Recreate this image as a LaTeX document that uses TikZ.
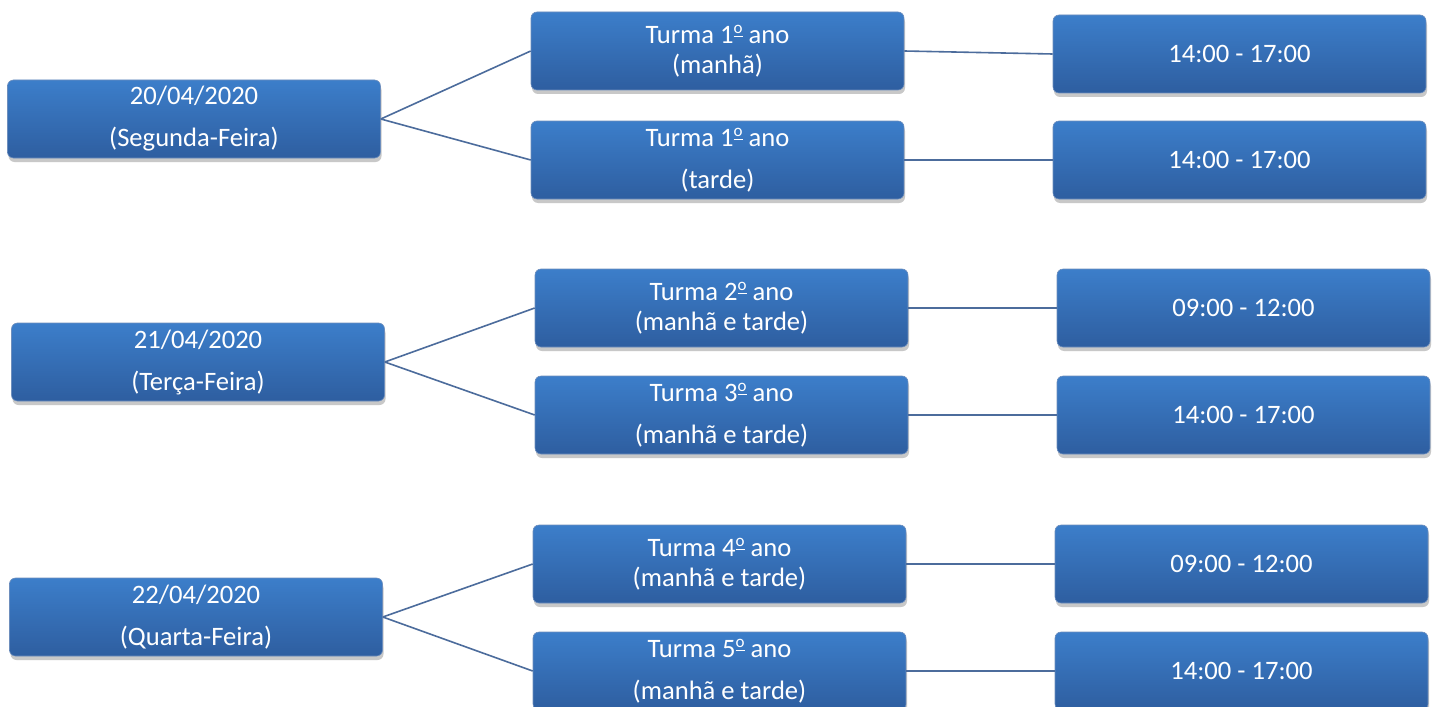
\documentclass[tikz,border=0pt]{standalone}
\usepackage{fontspec}
\setmainfont{Carlito}
\usetikzlibrary{shadows}
\definecolor{caixaTopo}{RGB}{60,126,202}
\definecolor{caixaBase}{RGB}{46,94,160}
\definecolor{linha}{RGB}{76,108,156}
\newcommand{\folga}{\\[6pt]}
\newcommand{\ordo}{\raisebox{0.8ex}{\fontsize{8.5}{9}\selectfont\underline{o}}}
\begin{document}
\begin{tikzpicture}[x=0.5pt,y=-0.5pt]
    \tikzstyle{caixa}=[rectangle, rounded corners=3pt, minimum width=186.5pt, minimum height=39pt,
        top color=caixaTopo, bottom color=caixaBase, draw=caixaBase!70!white, line width=0.3pt,
        text=white, align=center, inner sep=0pt,
        font=\fontsize{13.3}{15}\selectfont,
        drop shadow={shadow xshift=0.5pt, shadow yshift=-2pt, opacity=0.3, fill=black!70}]
    \tikzstyle{ligacao}=[draw=linha, line width=0.8pt]
    \clip (0,0) rectangle (1438,706);
    \fill[white] (0,0) rectangle (1438,706);
    % dias
    \node[caixa] (dia1) at (194,119) {20/04/2020\folga(Segunda-Feira)};
    \node[caixa] (dia2) at (198,362) {21/04/2020\folga(Terça-Feira)};
    \node[caixa] (dia3) at (196,617) {22/04/2020\folga(Quarta-Feira)};
    % turmas
    \node[caixa] (turma1m) at (717.5,51) {Turma 1\ordo{} ano\\(manhã)};
    \node[caixa] (turma1t) at (717.5,160) {Turma 1\ordo{} ano\folga(tarde)};
    \node[caixa] (turma2) at (721.5,308) {Turma 2\ordo{} ano\\(manhã e tarde)};
    \node[caixa] (turma3) at (721.5,415) {Turma 3\ordo{} ano\folga(manhã e tarde)};
    \node[caixa] (turma4) at (719.5,564) {Turma 4\ordo{} ano\\(manhã e tarde)};
    \node[caixa] (turma5) at (719.5,671) {Turma 5\ordo{} ano\folga(manhã e tarde)};
    % horarios
    \node[caixa] (hora1m) at (1239.5,54) {14:00 - 17:00};
    \node[caixa] (hora1t) at (1239.5,160) {14:00 - 17:00};
    \node[caixa] (hora2) at (1243.5,308) {09:00 - 12:00};
    \node[caixa] (hora3) at (1243.5,415) {14:00 - 17:00};
    \node[caixa] (hora4) at (1241.5,564) {09:00 - 12:00};
    \node[caixa] (hora5) at (1241.5,671) {14:00 - 17:00};
    % ligacoes
    \draw[ligacao] (dia1.east) -- (turma1m.west);
    \draw[ligacao] (dia1.east) -- (turma1t.west);
    \draw[ligacao] (dia2.east) -- (turma2.west);
    \draw[ligacao] (dia2.east) -- (turma3.west);
    \draw[ligacao] (dia3.east) -- (turma4.west);
    \draw[ligacao] (dia3.east) -- (turma5.west);
    \draw[ligacao] (turma1m.east) -- (hora1m.west);
    \draw[ligacao] (turma1t.east) -- (hora1t.west);
    \draw[ligacao] (turma2.east) -- (hora2.west);
    \draw[ligacao] (turma3.east) -- (hora3.west);
    \draw[ligacao] (turma4.east) -- (hora4.west);
    \draw[ligacao] (turma5.east) -- (hora5.west);
\end{tikzpicture}
\end{document}
